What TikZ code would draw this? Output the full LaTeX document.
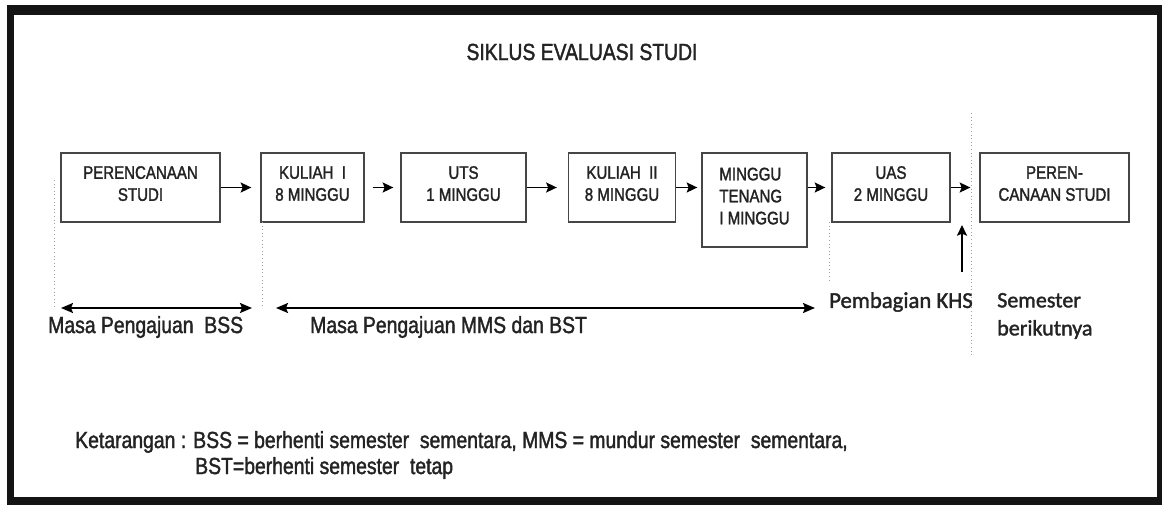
\documentclass[tikz,border=0pt]{standalone}
\usepackage{fontspec}
\setmainfont{Liberation Sans}[FakeStretch=0.83, FakeBold=1.6]
\newfontfamily\calibfont{Carlito}[FakeBold=1.6]
\usepackage{tikz}
\usetikzlibrary{arrows.meta, positioning, calc}
\usepackage{xcolor}
\definecolor{frameline}{RGB}{20,20,20}
\definecolor{boxline}{RGB}{70,70,70}
\definecolor{textgray}{RGB}{35,35,35}
\definecolor{guideline}{RGB}{160,160,160}
\newcommand{\px}{0.75pt}
\newcommand{\boxfont}{\fontsize{13.6pt}{16.5pt}\selectfont}
\newcommand{\labfont}{\fontsize{17.5pt}{19.5pt}\selectfont}

\tikzset{
  box/.style={draw=boxline, line width=1pt, minimum height=69*\px, inner sep=0pt, align=center, font=\boxfont, text=textgray},
  flow/.style={-{Stealth[length=8pt,width=7.5pt,inset=1.5pt]}, line width=1.3pt},
  span/.style={{Stealth[length=9pt,width=7.5pt,inset=1.5pt]}-{Stealth[length=9pt,width=7.5pt,inset=1.5pt]}, line width=1.3pt},
  guide/.style={draw=guideline, dotted, line width=0.7pt},
  lab/.style={anchor=west, inner sep=0pt, font=\labfont, align=left, text=textgray}
}

\begin{document}
\begin{tikzpicture}[x=0.75pt, y=-0.75pt]
  \useasboundingbox (0,0) rectangle (1165,508);
  % frame
  \fill[frameline] (7,5) rectangle (1162,505);
  \fill[white] (14,15) rectangle (1157,497);

  \node[font=\fontsize{17.5pt}{20pt}\selectfont, text=textgray] (title) at (582,52) {SIKLUS EVALUASI STUDI};

  % boxes
  \node[box, minimum width=159*\px] (b1) at (140.5,187.5) {PERENCANAAN\\STUDI\\[-10.5pt]};
  \node[box, minimum width=103*\px] (b2) at (312.5,187.5) {KULIAH \ I\\8 MINGGU\\[-10.5pt]};
  \node[box, minimum width=125*\px] (b3) at (463.5,187.5) {UTS\\1 MINGGU\\[-10.5pt]};
  \node[box, minimum width=107*\px] (b4) at (622,187.5) {KULIAH \ II\\8 MINGGU\\[-10.5pt]};
  \node[box, minimum width=105*\px, minimum height=94*\px, align=left] (b5) at (754.5,200) {MINGGU\\TENANG\\I MINGGU\\[-10.5pt]};
  \node[box, minimum width=118*\px] (b6) at (891,187.5) {UAS\\2 MINGGU\\[-10.5pt]};
  \node[box, minimum width=149*\px] (b7) at (1054.5,187.5) {PEREN-\\CANAAN STUDI\\[-10.5pt]};

  \draw[flow, shorten >=9*\px] (b1.east) -- (b2.west);
  \draw[flow, shorten <=8*\px, shorten >=7*\px] (b2.east) -- (b3.west);
  \draw[flow, shorten >=11*\px] (b3.east) -- (b4.west);
  \draw[flow, shorten >=4*\px] (b4.east) -- (b5.west |- b4.east);
  \draw[flow, shorten >=6*\px] (b5.east |- b6.west) -- (b6.west);
  \draw[flow, shorten >=9*\px] (b6.east) -- (b7.west);

  % guides
  \coordinate (g1a) at (54,180);   \coordinate (g1b) at (54,307);
  \coordinate (g2a) at (262,222);  \coordinate (g2b) at (262,305);
  \coordinate (g3a) at (829,222);  \coordinate (g3b) at (829,283);
  \coordinate (g4a) at (971,113);  \coordinate (g4b) at (971,355);
  \foreach \g in {1,...,4} \draw[guide] (g\g a) -- (g\g b);

  % periods
  \coordinate (bssl) at (61,308);  \coordinate (bssr) at (252,308);
  \coordinate (mmsl) at (276,308); \coordinate (mmsr) at (815,308);
  \draw[span] (bssl) -- (bssr);
  \draw[span] (mmsl) -- (mmsr);
  \coordinate (khs) at (962,272);  \coordinate (khstip) at (962,225);
  \draw[flow] (khs) -- (khstip);

  \node[lab] (bss) at (48,327) {Masa Pengajuan \ BSS};
  \node[lab] (mms) at (310,327) {Masa Pengajuan MMS dan BST};
  \node[lab, font=\calibfont\fontsize{17pt}{20pt}\selectfont] (kartu) at (829,302) {Pembagian KHS};
  \node[lab, font=\calibfont\fontsize{16.5pt}{21pt}\selectfont] (next) at (997,316) {Semester\\berikutnya};

  \node[lab] (ket) at (75,442) {Ketarangan : BSS = berhenti semester \ sementara, MMS = mundur semester \ sementara,};
  \node[lab] (ket2) at (195,468) {BST=berhenti semester \ tetap};
\end{tikzpicture}
\end{document}
